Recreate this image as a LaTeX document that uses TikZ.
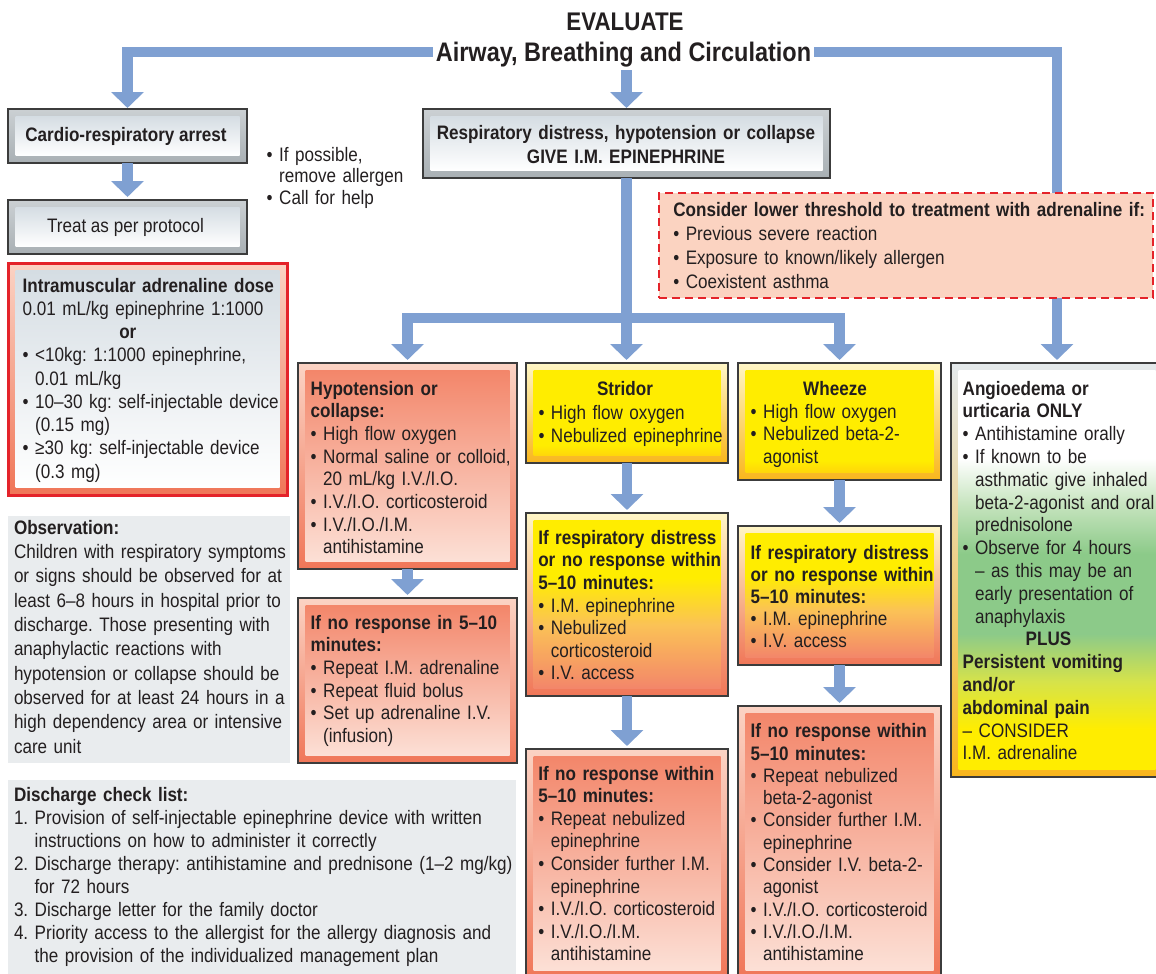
\documentclass[tikz,border=0pt]{standalone}
\usepackage{fontspec}
\setmainfont{Liberation Sans}[FakeStretch=0.876]
\usetikzlibrary{arrows.meta,fit,calc}
\frenchspacing

% palette
\definecolor{flowblue}{HTML}{7FA0D2}
\definecolor{edge}{HTML}{3C3C3C}
\definecolor{ink}{HTML}{231F20}
\definecolor{salmon}{HTML}{F3866A}
\definecolor{blush}{HTML}{FBD3C4}
\definecolor{blushpale}{HTML}{FCE0D6}
\definecolor{coral}{HTML}{F07658}
\definecolor{signal}{HTML}{FFED00}
\definecolor{signaldeep}{HTML}{FFD60A}
\definecolor{cream}{HTML}{FFF6C6}
\definecolor{amber}{HTML}{F9B61C}
\definecolor{apricot}{HTML}{FBC256}
\definecolor{mist}{HTML}{D5DDE3}
\definecolor{steel}{HTML}{CBD0D3}
\definecolor{steeldark}{HTML}{A9B0B4}
\definecolor{frost}{HTML}{E4E9EC}
\definecolor{panel}{HTML}{E9ECEE}
\definecolor{alarm}{HTML}{E4232A}
\definecolor{peach}{HTML}{FBD3C1}
\definecolor{leaf}{HTML}{8CCA89}
\definecolor{leafpale}{HTML}{C4E3BC}
\definecolor{lime}{HTML}{D6E34A}

% inner faces with several colour stops (path spans 25bp..75bp)
\pgfdeclareverticalshading{sunface}{100bp}{color(0bp)=(signaldeep); color(25bp)=(signaldeep); color(31bp)=(signal); color(100bp)=(signal)}
\pgfdeclareverticalshading{duskface}{100bp}{color(0bp)=(salmon); color(25bp)=(salmon); color(44bp)=(apricot); color(58bp)=(signal); color(100bp)=(signal)}
\pgfdeclareverticalshading{meadowface}{100bp}{color(0bp)=(signal); color(30bp)=(signal); color(36bp)=(lime); color(42bp)=(leaf); color(52bp)=(leaf); color(58bp)=(leafpale); color(64bp)=(white); color(100bp)=(white)}

\newcommand\fs[1]{\fontsize{19.5}{#1}\selectfont}
\newcommand\bul{•\ }
\newcommand\ind{\phantom{•\ }}
\newcommand\num{\phantom{1.\ }}

% framed panel: name, top-left x,y, bottom-right x,y, look
\newcommand\panelbox[6]{%
  \node[fit={(#2,#3) (#4,#5)}, inner sep=0pt, outer sep=0pt, #6 frame] (#1) {};
  \path[#6 face] (#2+7.5,#3+7.5) rectangle (#4-7.5,#5-7.5);
}

\tikzset{
  cool frame/.style={top color=steel, bottom color=steeldark, draw=edge, line width=1.2pt},
  cool face/.style={top color=mist, bottom color=white},
  dose frame/.style={top color=blush, bottom color=coral, draw=alarm, line width=3pt},
  dose face/.style={top color=mist, bottom color=white},
  hot frame/.style={top color=blush, bottom color=coral, draw=edge, line width=1.2pt},
  hot face/.style={top color=salmon, bottom color=blushpale},
  sun frame/.style={top color=cream, bottom color=amber, draw=edge, line width=1.2pt},
  sun face/.style={shade, shading=sunface},
  dusk frame/.style={top color=cream, bottom color=coral, draw=edge, line width=1.2pt},
  dusk face/.style={shade, shading=duskface},
  meadow frame/.style={top color=frost, bottom color=amber, draw=edge, line width=1.2pt},
  meadow face/.style={shade, shading=meadowface},
  plain/.style={fill=panel, inner sep=0pt, outer sep=0pt},
  txt/.style={anchor=base west, inner sep=0pt, outer sep=0pt, text width=330pt,
    align=left, text=ink, font=\fs{22.8}},
  ctr/.style={anchor=base, inner sep=0pt, outer sep=0pt, text=ink, font=\fs{22.8}\bfseries},
  flow/.style={draw=flowblue, line width=10.5pt, shorten >=3pt,
    -{Triangle[width=32pt,length=16pt]}},
}

\begin{document}
\begin{tikzpicture}[x=1pt, y=-1pt]
\useasboundingbox (0,0) rectangle (1156,974);
\clip (0,0) rectangle (1156,974);

% heading
\node[anchor=base, inner sep=3pt, text=ink, font=\fontsize{25.5}{30}\selectfont\bfseries]
  (evaluate) at (625,31) {EVALUATE};
\node[anchor=base, inner sep=3pt, text=ink, font=\fontsize{26.8}{30}\selectfont\bfseries]
  (abc) at (623.5,61.5) {Airway, Breathing and Circulation};
\coordinate (topline) at (625,52);
\coordinate (fork) at (626.5,318);

% grey panels on the left
\node[fit={(8,516) (290,763)}, plain] (obs) {};
\node[fit={(8,780) (516,980)}, plain] (disch) {};

% framed boxes
\panelbox{cardio}{8}{109}{247}{163}{cool}
\panelbox{treat}{8}{200}{247}{254}{cool}
\panelbox{resp}{423}{109}{830}{178}{cool}
\panelbox{dose}{8}{263}{287}{495}{dose}
\panelbox{hypo}{298}{363}{517}{569}{hot}
\panelbox{hypo2}{298}{598}{517}{763}{hot}
\panelbox{strid1}{526}{363}{728}{463}{sun}
\panelbox{strid2}{526}{513}{728}{696}{dusk}
\panelbox{strid3}{526}{749}{728}{978}{hot}
\panelbox{wheeze1}{738}{363}{941}{480}{sun}
\panelbox{wheeze2}{738}{526}{941}{665}{dusk}
\panelbox{wheeze3}{738}{706}{941}{978}{hot}
\panelbox{angio}{951}{363}{1163}{777}{meadow}

% box texts
\node[ctr] (cardio-t) at (126,141.7) {Cardio-respiratory arrest};
\node[ctr, font=\fs{22.8}] (treat-t) at (125.5,232) {Treat as per protocol};
\node[anchor=base, inner sep=0pt, text width=400pt, align=center, text=ink, font=\fs{24}\bfseries]
  (resp-t) at (626,139) {Respiratory distress, hypotension or collapse\\GIVE I.M. EPINEPHRINE};

\node[txt, font=\fs{21.5}] (side-t) at (266.7,161)
  {\bul If possible,\\\ind remove allergen\\\bul Call for help};

\node[txt, font=\fs{23.25}] (dose-t) at (22.7,292)
  {\textbf{Intramuscular adrenaline dose}\\
   0.01 mL/kg epinephrine 1:1000\\
   \hspace*{96.6pt}\textbf{or}\\
   \bul <10kg: 1:1000 epinephrine,\\
   \ind 0.01 mL/kg\\
   \bul 10–30 kg: self-injectable device\\
   \ind (0.15 mg)\\
   \bul ≥30 kg: self-injectable device\\
   \ind (0.3 mg)};

\node[txt, font=\fs{24.3}] (obs-t) at (14,534.3)
  {\textbf{Observation:}\\
   Children with respiratory symptoms\\
   or signs should be observed for at\\
   least 6–8 hours in hospital prior to\\
   discharge. Those presenting with\\
   anaphylactic reactions with\\
   hypotension or collapse should be\\
   observed for at least 24 hours in a\\
   high dependency area or intensive\\
   care unit};

\node[txt, text width=540pt, font=\fs{23}] (disch-t) at (14,801)
  {\textbf{Discharge check list:}\\
   1. Provision of self-injectable epinephrine device with written\\
   \num instructions on how to administer it correctly\\
   2. Discharge therapy: antihistamine and prednisone (1–2 mg/kg)\\
   \num for 72 hours\\
   3. Discharge letter for the family doctor\\
   4. Priority access to the allergist for the allergy diagnosis and\\
   \num the provision of the individualized management plan};

\node[txt, font=\fs{22.7}] (hypo-t) at (310.7,395)
  {\textbf{Hypotension or}\\
   \textbf{collapse:}\\
   \bul High flow oxygen\\
   \bul Normal saline or colloid,\\
   \ind 20 mL/kg I.V./I.O.\\
   \bul I.V./I.O. corticosteroid\\
   \bul I.V./I.O./I.M.\\
   \ind antihistamine};

\node[txt, font=\fs{22.7}] (hypo2-t) at (310.7,629)
  {\textbf{If no response in 5–10}\\
   \textbf{minutes:}\\
   \bul Repeat I.M. adrenaline\\
   \bul Repeat fluid bolus\\
   \bul Set up adrenaline I.V.\\
   \ind (infusion)};

\node[ctr] (strid1-h) at (625,395) {Stridor};
\node[txt, font=\fs{23.8}] (strid1-t) at (538.5,419)
  {\bul High flow oxygen\\\bul Nebulized epinephrine};

\node[txt, font=\fs{22.6}] (strid2-t) at (538.3,544.3)
  {\textbf{If respiratory distress}\\
   \textbf{or no response within}\\
   \textbf{5–10 minutes:}\\
   \bul I.M. epinephrine\\
   \bul Nebulized\\
   \ind corticosteroid\\
   \bul I.V. access};

\node[txt, font=\fs{22.6}] (strid3-t) at (538.3,780)
  {\textbf{If no response within}\\
   \textbf{5–10 minutes:}\\
   \bul Repeat nebulized\\
   \ind epinephrine\\
   \bul Consider further I.M.\\
   \ind epinephrine\\
   \bul I.V./I.O. corticosteroid\\
   \bul I.V./I.O./I.M.\\
   \ind antihistamine};

\node[ctr] (wheeze1-h) at (835,395) {Wheeze};
\node[txt, font=\fs{22.8}] (wheeze1-t) at (750.7,418)
  {\bul High flow oxygen\\\bul Nebulized beta-2-\\\ind agonist};

\node[txt, font=\fs{22.1}] (wheeze2-t) at (750.7,559.3)
  {\textbf{If respiratory distress}\\
   \textbf{or no response within}\\
   \textbf{5–10 minutes:}\\
   \bul I.M. epinephrine\\
   \bul I.V. access};

\node[txt, font=\fs{22.3}] (wheeze3-t) at (750.7,737.7)
  {\textbf{If no response within}\\
   \textbf{5–10 minutes:}\\
   \bul Repeat nebulized\\
   \ind beta-2-agonist\\
   \bul Consider further I.M.\\
   \ind epinephrine\\
   \bul Consider I.V. beta-2-\\
   \ind agonist\\
   \bul I.V./I.O. corticosteroid\\
   \bul I.V./I.O./I.M.\\
   \ind antihistamine};

\node[txt, font=\fs{22.8}] (angio-t) at (962.7,395)
  {\textbf{Angioedema or}\\
   \textbf{urticaria ONLY}\\
   \bul Antihistamine orally\\
   \bul If known to be\\
   \ind asthmatic give inhaled\\
   \ind beta-2-agonist and oral\\
   \ind prednisolone\\
   \bul Observe for 4 hours\\
   \ind – as this may be an\\
   \ind early presentation of\\
   \ind anaphylaxis\\
   \hspace*{63pt}\textbf{PLUS}\\
   \textbf{Persistent vomiting}\\
   \textbf{and/or}\\
   \textbf{abdominal pain}\\
   – CONSIDER\\
   I.M. adrenaline};

% flow arrows
\draw[flow, shorten >=1pt] (abc.west |- topline) -| (cardio.north);
\draw[flow] (abc.east |- topline) -| (angio.north);
\draw[flow, shorten >=1pt] (resp.north |- abc.south) -- (resp.north);
\draw[flow] (cardio.south) -- (treat.north);
\draw[flow] (resp.south) -- (resp.south |- strid1.north);
\draw[flow] (fork) -| (hypo.north);
\draw[flow] (fork) -| (wheeze1.north);
\draw[flow] (hypo.south) -- (hypo2.north);
\draw[flow] (strid1.south) -- (strid2.north);
\draw[flow] (strid2.south) -- (strid3.north);
\draw[flow] (wheeze1.south) -- (wheeze2.north);
\draw[flow] (wheeze2.south) -- (wheeze3.north);

% threshold note, laid over the right-hand connector
\node[fit={(659,193) (1153,298)}, inner sep=0pt, outer sep=0pt, fill=peach,
  draw=alarm, line width=2.6pt, dash pattern=on 8pt off 5pt] (thresh) {};
\node[txt, text width=490pt, font=\fs{23.9}] (thresh-t) at (673.3,216.7)
  {\textbf{Consider lower threshold to treatment with adrenaline if:}\\
   \bul Previous severe reaction\\
   \bul Exposure to known/likely allergen\\
   \bul Coexistent asthma};
\end{tikzpicture}
\end{document}
